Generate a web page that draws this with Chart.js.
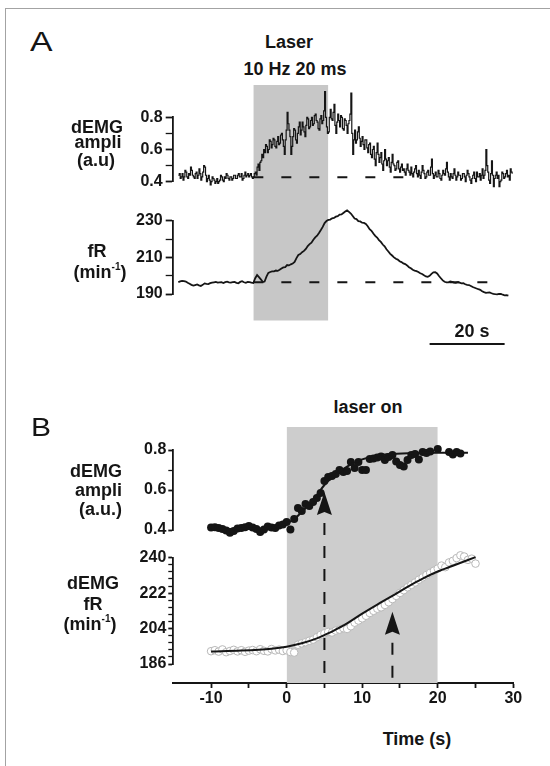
<!DOCTYPE html>
<html>
<head>
<meta charset="utf-8">
<script src="https://cdn.jsdelivr.net/npm/chart.js@4.4.1/dist/chart.umd.min.js"></script>
<style>
  body { margin: 0; width: 550px; height: 766px; overflow: hidden; position: relative; background: #fff;
         font-family: 'Liberation Sans', Arial, Helvetica, sans-serif; color: #151515; }
  .frame { position: absolute; left: 5px; top: 8px; width: 560px; height: 780px;
           border-top: 1.5px solid #a3a3a3; border-left: 1.5px solid #a3a3a3; }
  canvas { position: absolute; }
  .t { position: absolute; white-space: nowrap; line-height: 1; z-index: 5; }
  .t sup { font-size: 10px; vertical-align: 8px; line-height: 0; }
</style>
</head>
<body>
<div class="frame"></div>
<script>
// ---------- data ----------
// panel A : raw traces, time 0 = laser onset (s)
const ampA_t0 = -20, ampA_dt = 0.25;
const ampA = [
  0.44, 0.45, 0.42, 0.43, 0.45, 0.41, 0.43, 0.47, 0.46, 0.43, 0.42, 0.45, 0.44, 0.49, 0.47, 0.44, 0.43, 0.42, 0.45, 0.46,
  0.42, 0.44, 0.48, 0.45, 0.41, 0.43, 0.46, 0.50, 0.49, 0.44, 0.40, 0.42, 0.44, 0.41, 0.38, 0.40, 0.43, 0.42, 0.41, 0.39,
  0.40, 0.42, 0.39, 0.40, 0.41, 0.44, 0.43, 0.41, 0.40, 0.43, 0.42, 0.45, 0.44, 0.42, 0.41, 0.43, 0.43, 0.41, 0.42, 0.44,
  0.44, 0.42, 0.42, 0.44, 0.45, 0.43, 0.43, 0.45, 0.41, 0.42, 0.44, 0.46, 0.43, 0.44, 0.45, 0.43, 0.44, 0.45, 0.43, 0.42,
  0.43, 0.45, 0.46, 0.44, 0.49, 0.51, 0.47, 0.52, 0.53, 0.57, 0.55, 0.60, 0.58, 0.63, 0.62, 0.58, 0.60, 0.66, 0.65, 0.61,
  0.63, 0.67, 0.66, 0.62, 0.61, 0.65, 0.68, 0.63, 0.64, 0.69, 0.70, 0.66, 0.62, 0.57, 0.66, 0.72, 0.83, 0.76, 0.72, 0.68,
  0.57, 0.62, 0.68, 0.73, 0.72, 0.66, 0.64, 0.70, 0.74, 0.77, 0.69, 0.72, 0.77, 0.74, 0.71, 0.68, 0.75, 0.80, 0.79, 0.73,
  0.74, 0.78, 0.80, 0.75, 0.76, 0.81, 0.82, 0.78, 0.77, 0.73, 0.72, 0.79, 0.81, 0.76, 0.78, 0.84, 0.96, 0.80, 0.74, 0.70,
  0.71, 0.80, 0.85, 0.79, 0.78, 0.83, 0.88, 0.75, 0.70, 0.77, 0.82, 0.78, 0.74, 0.81, 0.80, 0.73, 0.72, 0.79, 0.78, 0.75,
  0.70, 0.76, 0.78, 0.82, 0.95, 0.70, 0.57, 0.66, 0.72, 0.64, 0.66, 0.71, 0.74, 0.67, 0.62, 0.65, 0.68, 0.63, 0.60, 0.66,
  0.66, 0.61, 0.58, 0.63, 0.64, 0.57, 0.55, 0.60, 0.62, 0.54, 0.50, 0.58, 0.64, 0.57, 0.52, 0.55, 0.58, 0.51, 0.47, 0.53,
  0.60, 0.54, 0.50, 0.53, 0.55, 0.49, 0.46, 0.52, 0.57, 0.51, 0.50, 0.47, 0.48, 0.52, 0.53, 0.48, 0.46, 0.49, 0.51, 0.47,
  0.48, 0.46, 0.44, 0.48, 0.51, 0.47, 0.46, 0.44, 0.49, 0.45, 0.43, 0.46, 0.48, 0.50, 0.45, 0.43, 0.47, 0.44, 0.42, 0.46,
  0.50, 0.47, 0.45, 0.42, 0.43, 0.46, 0.47, 0.44, 0.44, 0.49, 0.54, 0.45, 0.42, 0.44, 0.46, 0.43, 0.43, 0.47, 0.45, 0.42,
  0.41, 0.44, 0.47, 0.45, 0.44, 0.48, 0.52, 0.46, 0.43, 0.41, 0.45, 0.43, 0.42, 0.45, 0.48, 0.44, 0.41, 0.43, 0.46, 0.44,
  0.44, 0.41, 0.42, 0.45, 0.45, 0.43, 0.40, 0.44, 0.47, 0.45, 0.43, 0.41, 0.39, 0.42, 0.44, 0.46, 0.42, 0.40, 0.46, 0.43,
  0.43, 0.45, 0.41, 0.44, 0.48, 0.42, 0.44, 0.47, 0.60, 0.50, 0.46, 0.41, 0.39, 0.45, 0.53, 0.44, 0.37, 0.42, 0.44, 0.46,
  0.42, 0.44, 0.37, 0.40, 0.41, 0.46, 0.45, 0.42, 0.43, 0.45, 0.47, 0.43, 0.44, 0.41, 0.48, 0.46, 0.45
];
const frA_t0 = -20, frA_dt = 0.5;
const frA = [
  196.5, 196.9, 197.2, 197.0, 196.8, 196.1, 195.6, 195.0, 194.6, 194.9, 195.2, 194.7, 194.4, 195.0, 195.8, 195.5, 195.4, 195.9, 196.2, 196.4,
  196.6, 196.2, 196.3, 196.4, 196.0, 196.5, 196.7, 196.3, 196.2, 196.5, 196.6, 196.1, 195.9, 196.6, 197.0, 196.4, 196.1, 196.6, 196.5, 196.2,
  196.0, 198.6, 200.4, 199.2, 198.0, 196.6, 196.8, 199.5, 201.5, 202.0, 202.3, 202.4, 202.8, 202.6, 203.2, 203.9, 204.5, 204.7, 205.8, 205.6,
  206.2, 206.6, 207.5, 209.6, 211.3, 211.8, 212.8, 213.5, 214.6, 216.2, 217.2, 218.0, 219.6, 220.9, 221.8, 223.3, 224.9, 226.6, 228.7, 229.8,
  230.4, 230.6, 231.3, 231.5, 232.2, 232.5, 233.3, 233.4, 234.2, 235.0, 235.6, 234.8, 233.9, 232.6, 231.2, 230.9, 229.8, 229.6, 228.9, 228.8,
  228.2, 227.0, 225.4, 224.5, 223.0, 221.7, 220.8, 219.4, 218.4, 217.0, 216.0, 214.4, 213.2, 211.9, 211.0, 210.0, 209.2, 208.8, 207.9, 207.4,
  206.7, 206.3, 205.6, 204.6, 204.0, 203.2, 202.8, 202.5, 202.0, 201.3, 200.9, 200.2, 199.6, 199.4, 199.9, 201.0, 201.8, 201.9, 201.2, 199.8,
  198.6, 197.4, 196.7, 196.3, 196.4, 196.8, 196.6, 196.2, 196.1, 196.5, 196.2, 195.8, 195.9, 195.3, 195.0, 194.9, 194.4, 193.8, 193.4, 193.0,
  192.6, 192.3, 191.5, 191.0, 190.6, 190.8, 190.9, 190.4, 190.1, 189.9, 189.8, 190.1, 190.0, 189.6, 189.3, 189.4, 189.1
];
const ampBaseA = 0.428, frBaseA = 196.4;
const baseEndA = [41, 65];          // where the dashed baselines stop (s)
const laserA = [0, 20];
const scaleBarA = [47, 67];         // 20 s

const ampTicksA = [0.4, 0.5, 0.6, 0.7, 0.8];
const ampLabelsA = [0.4, 0.6, 0.8];
const frTicksA = [190, 200, 210, 220, 230];
const frLabelsA = [190, 210, 230];

// panel B : averaged points and sigmoid fits
const ampB_t0 = -10, ampB_dt = 0.5;
const ampB = [
  0.412, 0.414, 0.410, 0.405, 0.398, 0.386, 0.395, 0.408, 0.410, 0.414,
  0.420, 0.412, 0.405, 0.390, 0.402, 0.418, 0.412, 0.410, 0.422, 0.428,
  0.440, 0.402, 0.455, 0.510, 0.495, 0.530, 0.520, 0.540, 0.560, 0.585,
  0.645, 0.665, 0.670, 0.680, 0.700, 0.690, 0.695, 0.740, 0.710, 0.740,
  0.700, 0.700, 0.755, 0.758, 0.762, 0.768, 0.750, 0.765, 0.775, 0.742,
  0.725, 0.718, 0.750, 0.775, 0.780, 0.752, 0.790, 0.785, 0.792, 0.830,
  0.805, 0.830, 0.835, 0.790, 0.778, 0.790, 0.782
];
const frB_t0 = -10, frB_dt = 0.5;
const frB = [
  192.5, 193.0, 192.3, 193.4, 192.0, 192.6, 193.2, 192.4, 193.0, 192.2,
  192.8, 193.1, 192.5, 193.5, 192.7, 192.4, 193.6, 192.9, 193.3, 192.6,
  193.0, 192.1, 191.8, 195.8, 196.5, 197.1, 197.8, 198.4, 199.6, 200.8,
  201.6, 202.3, 202.0, 203.0, 203.5, 204.2, 203.8, 205.2, 207.0, 208.1,
  209.2, 210.5, 211.9, 213.0, 214.1, 214.8, 216.0, 217.4, 219.0, 220.6,
  222.1, 223.5, 225.0, 226.2, 227.4, 228.8, 230.0, 231.2, 232.3, 233.4,
  234.5, 236.0, 235.2, 237.6, 238.4, 239.8, 241.2, 240.6, 238.9, 239.5, 237.0
];
const fitAmpT = [-10, -5, -2, 0, 1, 2, 3, 4, 5, 6, 7, 8, 9, 10, 12, 14, 17, 20, 24];
const fitAmpV = [0.405, 0.406, 0.412, 0.432, 0.455, 0.49, 0.53, 0.575, 0.625, 0.663,
                 0.692, 0.717, 0.737, 0.753, 0.772, 0.780, 0.785, 0.786, 0.786];
const fitFrT = [-10, -6, -2, 0, 2, 4, 5, 6, 8, 10, 12, 14, 16, 18, 20, 22, 25];
const fitFrV = [192.3, 192.8, 193.8, 194.8, 196.5, 199.0, 200.7, 202.5, 206.6, 211.6,
                216.2, 220.6, 225.2, 229.4, 233.0, 235.9, 240.3];
const laserB = [0, 20];
const arrowsB = [
  { t: 5, on: 'amp', tip: 0.59 },
  { t: 14, on: 'fr', tip: 212.6 }
];

const ampTicksB = [0.4, 0.5, 0.6, 0.7, 0.8];
const ampLabelsB = [0.4, 0.6, 0.8];
const frTicksB = [186, 189.6, 193.2, 196.8, 200.4, 204, 207.6, 211.2, 214.8, 218.4,
                  222, 225.6, 229.2, 232.8, 236.4, 240];
const frLabelsB = [186, 204, 222, 240];
const timeTicksB = [-10, -5, 0, 5, 10, 15, 20, 25, 30];
const timeLabelsB = [-10, 0, 10, 20, 30];

// ---------- setup ----------
const ink = '#151515';
const family = "'Liberation Sans', Arial, Helvetica, sans-serif";
const tickFont = { family, size: 16, weight: 'bold' };
Chart.defaults.font.family = family;
Chart.defaults.animation = false;
Chart.defaults.responsive = false;
Chart.defaults.events = [];
Chart.defaults.plugins.legend.display = false;
Chart.defaults.plugins.tooltip.enabled = false;

const series = (t0, dt, vals) => vals.map((v, i) => ({ x: t0 + i * dt, y: v }));
const pairs = (ts, vs) => ts.map((t, i) => ({ x: t, y: vs[i] }));

function makeCanvas(top, h, z) {
  const c = document.createElement('canvas');
  c.width = 550; c.height = h;
  c.style.left = '0px'; c.style.top = top + 'px'; c.style.zIndex = z;
  document.body.appendChild(c);
  return c;
}

function valueAxis(min, max, ticks, labels, width, tickLen, pad, fmt) {
  return {
    type: 'linear', min, max, position: 'left',
    afterFit: s => { s.width = width; },
    afterBuildTicks: s => { s.ticks = ticks.map(v => ({ value: v })); },
    ticks: { font: tickFont, color: ink, padding: pad, autoSkip: false,
             callback: v => labels.some(l => Math.abs(l - v) < 1e-6) ? fmt(v) : '' },
    grid: { drawOnChartArea: false, tickLength: tickLen, tickColor: ink,
            tickWidth: ctx => labels.some(l => Math.abs(l - ctx.tick.value) < 1e-6) ? 1.8 : 1.3 },
    border: { color: ink, width: 1.8 }
  };
}

function hiddenX(min, max) { return { type: 'linear', min, max, display: false }; }

// ---------- panel A ----------
const xA = [-21.5, 71.1];   // visible time span of panel A
const A_LEFT = 172.7, A_RIGHT = 30;

const aTopCanvas = makeCanvas(90, 110, 2);
new Chart(aTopCanvas, {
  type: 'line',
  data: { datasets: [
    { data: series(ampA_t0, ampA_dt, ampA), stepped: true, borderColor: ink, borderWidth: 1.2,
      pointRadius: 0, clip: false },
    { data: [{ x: laserA[0], y: ampBaseA }, { x: baseEndA[0], y: ampBaseA }], borderColor: ink,
      borderWidth: 2, borderDash: [10, 18], pointRadius: 0, clip: false }
  ] },
  options: {
    layout: { padding: { left: 0, right: A_RIGHT, top: 27.3, bottom: 18.3 } },
    scales: {
      x: hiddenX(xA[0], xA[1]),
      y: valueAxis(0.4, 0.8, ampTicksA, ampLabelsA, A_LEFT, 7, 3, v => v.toFixed(1))
    }
  }
});

const aBotCanvas = makeCanvas(200, 110, 2);
new Chart(aBotCanvas, {
  type: 'line',
  data: { datasets: [
    { data: series(frA_t0, frA_dt, frA), borderColor: ink, borderWidth: 1.8,
      pointRadius: 0, clip: false },
    { data: [{ x: laserA[0], y: frBaseA }, { x: baseEndA[1], y: frBaseA }], borderColor: ink,
      borderWidth: 2, borderDash: [10, 18], pointRadius: 0, clip: false }
  ] },
  options: {
    layout: { padding: { left: 0, right: A_RIGHT, top: 20.7, bottom: 16 } },
    scales: {
      x: hiddenX(xA[0], xA[1]),
      y: valueAxis(190, 230, frTicksA, frLabelsA, A_LEFT, 7, 3, v => String(v))
    }
  }
});

// laser shading + scale bar (y: 0..1 = shaded band, -0.1 = scale bar level)
const aBgCanvas = makeCanvas(80, 280, 1);
new Chart(aBgCanvas, {
  type: 'line',
  data: { datasets: [
    { data: [{ x: laserA[0], y: 1 }, { x: laserA[1], y: 1 }], fill: { value: 0 },
      backgroundColor: '#c7c7c7', borderWidth: 0, pointRadius: 0 },
    { data: [{ x: scaleBarA[0], y: -0.1 }, { x: scaleBarA[1], y: -0.1 }], borderColor: ink,
      borderWidth: 2, pointRadius: 0, clip: false }
  ] },
  options: {
    layout: { padding: { left: A_LEFT, right: A_RIGHT, top: 5, bottom: 16 } },
    scales: { x: hiddenX(xA[0], xA[1]), y: { type: 'linear', min: -0.1, max: 1, display: false } }
  }
});

// ---------- panel B ----------
const xB = [-15, 30];
const B_LEFT = 173.3, B_RIGHT = 36.7;

const bTopCanvas = makeCanvas(430, 120, 2);
const chartBTop = new Chart(bTopCanvas, {
  type: 'line',
  data: { datasets: [
    { data: pairs(fitAmpT, fitAmpV), borderColor: ink, borderWidth: 2, pointRadius: 0,
      cubicInterpolationMode: 'monotone', clip: false },
    { data: series(ampB_t0, ampB_dt, ampB), showLine: false, pointRadius: 4,
      pointBackgroundColor: ink, pointBorderColor: ink, pointBorderWidth: 0, clip: false }
  ] },
  options: {
    layout: { padding: { left: 0, right: B_RIGHT, top: 20, bottom: 20 } },
    scales: {
      x: hiddenX(xB[0], xB[1]),
      y: valueAxis(0.4, 0.8, ampTicksB, ampLabelsB, B_LEFT, 5, 2, v => v.toFixed(1))
    }
  }
});

const bBotCanvas = makeCanvas(535, 150, 2);
const chartBBot = new Chart(bBotCanvas, {
  type: 'line',
  data: { datasets: [
    { data: pairs(fitFrT, fitFrV), borderColor: ink, borderWidth: 2, pointRadius: 0,
      cubicInterpolationMode: 'monotone', clip: false },
    { data: series(frB_t0, frB_dt, frB), showLine: false, pointRadius: 3.8,
      pointBackgroundColor: '#ffffff', pointBorderColor: '#b8b8b8', pointBorderWidth: 1, clip: false }
  ] },
  options: {
    layout: { padding: { left: 0, right: B_RIGHT, top: 22.7, bottom: 21 } },
    scales: {
      x: hiddenX(xB[0], xB[1]),
      y: valueAxis(186, 240, frTicksB, frLabelsB, B_LEFT, 5, 2, v => String(Math.round(v)))
    }
  }
});

// arrows mark t50 of each fit, dashed down to the time axis
const arrowPlugin = {
  id: 'arrows',
  afterDatasetsDraw(chart) {
    const ctx = chart.ctx;
    const bottom = chart.chartArea.bottom;
    arrowsB.forEach(a => {
      const src = a.on === 'amp' ? chartBTop : chartBBot;
      const dy = parseFloat(src.canvas.style.top) - parseFloat(chart.canvas.style.top);
      const x = chart.scales.x.getPixelForValue(a.t);
      const tip = src.scales.y.getPixelForValue(a.tip) + dy;
      ctx.save();
      ctx.fillStyle = ink;
      ctx.beginPath();
      ctx.moveTo(x, tip);
      ctx.lineTo(x + 7.5, tip + 23);
      ctx.lineTo(x, tip + 20);
      ctx.lineTo(x - 7.5, tip + 23);
      ctx.closePath();
      ctx.fill();
      ctx.strokeStyle = ink;
      ctx.lineWidth = 2;
      ctx.setLineDash([12, 11]);
      ctx.beginPath();
      ctx.moveTo(x, tip + 31);
      ctx.lineTo(x, bottom);
      ctx.stroke();
      ctx.restore();
    });
  }
};

const bBgCanvas = makeCanvas(420, 300, 1);
new Chart(bBgCanvas, {
  type: 'line',
  data: { datasets: [
    { data: [{ x: laserB[0], y: 1 }, { x: laserB[1], y: 1 }], fill: 'origin',
      backgroundColor: '#cdcdcd', borderWidth: 0, pointRadius: 0 }
  ] },
  options: {
    layout: { padding: { left: B_LEFT, right: B_RIGHT, top: 6.7, bottom: 7 } },
    scales: {
      x: {
        type: 'linear', min: xB[0], max: xB[1], position: 'bottom', z: 1,
        afterFit: s => { s.height = 30; },
        afterBuildTicks: s => { s.ticks = timeTicksB.map(v => ({ value: v })); },
        ticks: { font: tickFont, color: ink, padding: 1, maxRotation: 0, autoSkip: false,
                 callback: v => timeLabelsB.includes(v) ? String(v) : '' },
        grid: { drawOnChartArea: false, tickLength: 5, tickColor: ink, tickWidth: 1.8 },
        border: { color: ink, width: 2 }
      },
      y: { type: 'linear', min: 0, max: 1, display: false }
    }
  },
  plugins: [arrowPlugin]
});

// ---------- text ----------
const texts = [
  // [html, x, baseline, size, weight, align, stretch]
  ['A', 30, 52, 27, 400, 'left', 1.25],
  ['Laser', 289, 48, 18, 700, 'center'],
  ['10 Hz 20 ms', 295, 75, 18, 700, 'center'],
  ['dEMG', 97, 133, 18, 700, 'center'],
  ['ampli', 98, 148, 18, 700, 'center'],
  ['(a.u)', 96, 166, 18, 700, 'center'],
  ['fR', 97, 257, 18, 700, 'center'],
  ['(min<sup>-1</sup>)', 100, 278, 18, 700, 'center'],
  ['20 s', 472, 337, 18, 700, 'center'],
  ['B', 31, 436, 25, 400, 'left', 1.2],
  ['laser on', 368, 413, 18, 700, 'center'],
  ['dEMG', 122, 477, 18, 700, 'right'],
  ['ampli', 122, 496, 18, 700, 'right'],
  ['(a.u.)', 122, 515, 18, 700, 'right'],
  ['dEMG', 93, 589, 18, 700, 'center'],
  ['fR', 93, 610, 18, 700, 'center'],
  ['(min<sup>-1</sup>)', 90, 630, 18, 700, 'center'],
  ['Time (s)', 417, 745, 18, 700, 'center']
];
texts.forEach(([html, x, base, size, weight, align, stretch]) => {
  const d = document.createElement('div');
  d.className = 't';
  d.innerHTML = html;
  d.style.fontSize = size + 'px';
  d.style.fontWeight = weight;
  d.style.left = x + 'px';
  d.style.top = (base - 0.8465 * size) + 'px';
  const shift = align === 'center' ? 'translateX(-50%)' : align === 'right' ? 'translateX(-100%)' : '';
  d.style.transformOrigin = 'left top';
  d.style.transform = shift + (stretch ? ` scaleX(${stretch})` : '');
  document.body.appendChild(d);
});
</script>
</body>
</html>
